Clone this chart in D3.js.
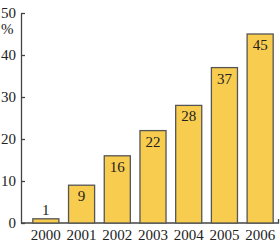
<!DOCTYPE html>
<html>
<head>
<meta charset="utf-8">
<script src="https://cdn.jsdelivr.net/npm/d3@7"></script>
<style>
  body { margin: 0; background: #fff; }
</style>
</head>
<body>
<svg class="chart"></svg>
<script>
const years = ['2000', '2001', '2002', '2003', '2004', '2005', '2006'];
const values = [1, 9, 16, 22, 28, 37, 45];
const yTicks = [0, 10, 20, 30, 40, 50];

const w = 280;
const h = 242;
const font = "font-family:'Liberation Serif';font-size:15px";

const svg = d3.select('svg.chart').attr('width', w).attr('height', h);

const x = d3.scaleBand()
    .domain(years)
    .range([28, 278])
    .paddingInner(0.27)
    .paddingOuter(0.135);

const y = d3.scaleLinear().domain([0, 50]).range([223, 13]);

// y axis, ticks point inward
const yAxis = d3.axisRight(y).tickValues(yTicks).tickSize(4).tickSizeOuter(0);
const gy = svg.append('g').attr('transform', 'translate(21,0)').call(yAxis);
gy.select('.domain').attr('stroke', '#444').attr('stroke-width', 1.3);
gy.selectAll('.tick line').attr('stroke', '#444').attr('stroke-width', 1.3);
gy.selectAll('.tick text')
    .attr('x', -5)
    .attr('text-anchor', 'end')
    .attr('style', font)
    .attr('fill', '#222');

svg.append('text')
    .attr('x', 1)
    .attr('y', 34)
    .attr('style', font)
    .attr('fill', '#222')
    .text('%');

// x axis line with a small tick at the right end
svg.append('path')
    .attr('d', `M21,${y(0)}H278.5V${y(0) - 4}`)
    .attr('fill', 'none')
    .attr('stroke', '#444')
    .attr('stroke-width', 1.3);

svg.selectAll('text.year')
    .data(years)
    .enter()
    .append('text')
    .attr('class', 'year')
    .attr('x', d => x(d) + x.bandwidth() / 2)
    .attr('y', 240)
    .attr('text-anchor', 'middle')
    .attr('style', font)
    .attr('fill', '#222')
    .text(d => d);

const bars = svg.selectAll('g.bar')
    .data(values)
    .enter()
    .append('g')
    .attr('class', 'bar');

bars.append('rect')
    .attr('x', (d, i) => x(years[i]))
    .attr('y', d => y(d))
    .attr('width', x.bandwidth())
    .attr('height', d => y(0) - y(d))
    .attr('fill', '#f8cd4f')
    .attr('stroke', '#555')
    .attr('stroke-width', 1.3);

bars.append('text')
    .attr('x', (d, i) => x(years[i]) + x.bandwidth() / 2)
    .attr('y', d => (y(0) - y(d) > 20 ? y(d) + 16 : y(d) - 4))
    .attr('text-anchor', 'middle')
    .attr('style', font)
    .attr('fill', '#222')
    .text(d => d);
</script>
</body>
</html>
